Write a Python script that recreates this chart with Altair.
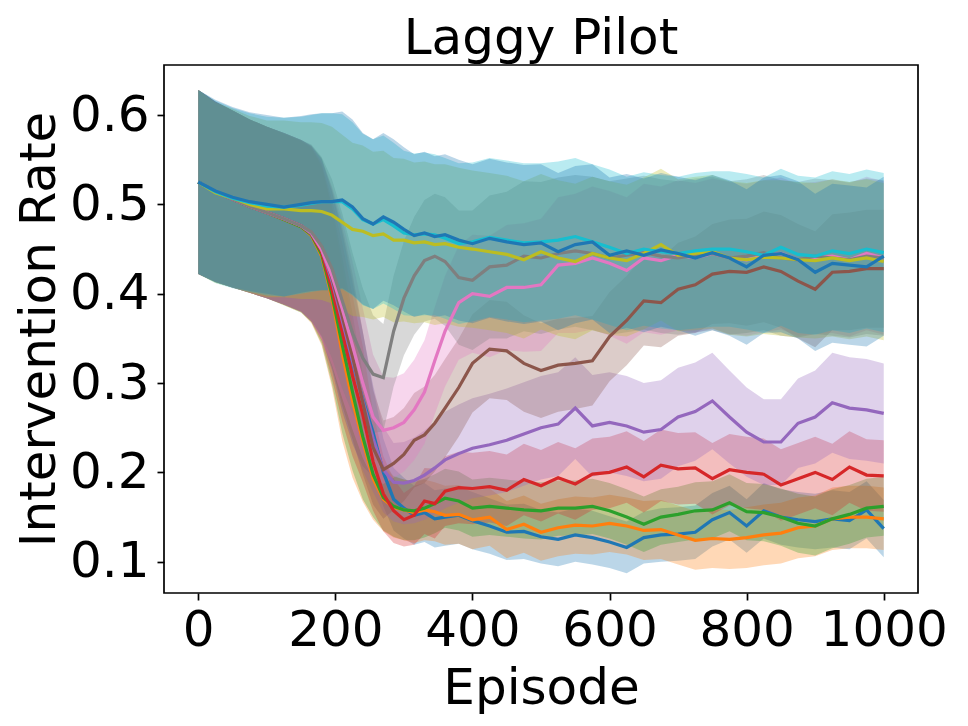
import altair as alt
import pandas as pd

# ---------------- data ----------------
EPISODES = [0, 25, 50, 75, 100, 125, 150, 165, 180, 195, 210, 225, 240, 255, 270, 285, 300,
            315, 330, 345, 360, 380, 400, 425, 450, 475, 500, 525, 550, 575, 600, 625, 650,
            675, 700, 725, 750, 775, 800, 825, 850, 875, 900, 925, 950, 975, 1000]

COLORS = ["#1f77b4", "#ff7f0e", "#2ca02c", "#d62728", "#9467bd", "#8c564b",
          "#e377c2", "#7f7f7f", "#bcbd22", "#17becf", "#1f77b4"]

MEAN_0 = [0.525, 0.514, 0.506, 0.498, 0.491, 0.484, 0.476, 0.467, 0.451, 0.415, 0.368, 0.322, 0.282, 0.245, 0.200, 0.170, 0.160,
          0.152, 0.155, 0.148, 0.150, 0.152, 0.146, 0.140, 0.133, 0.134, 0.128, 0.125, 0.130, 0.127, 0.122, 0.116, 0.127,
          0.130, 0.131, 0.133, 0.147, 0.155, 0.140, 0.157, 0.150, 0.147, 0.145, 0.148, 0.146, 0.158, 0.137]
MEAN_1 = [0.525, 0.514, 0.506, 0.498, 0.491, 0.483, 0.475, 0.465, 0.442, 0.395, 0.333, 0.280, 0.235, 0.193, 0.170, 0.161, 0.158,
          0.155, 0.158, 0.156, 0.152, 0.153, 0.147, 0.150, 0.136, 0.142, 0.133, 0.138, 0.141, 0.140, 0.143, 0.140, 0.135,
          0.136, 0.130, 0.124, 0.126, 0.125, 0.127, 0.130, 0.132, 0.138, 0.140, 0.148, 0.150, 0.150, 0.148]
MEAN_2 = [0.525, 0.514, 0.506, 0.498, 0.491, 0.483, 0.475, 0.466, 0.444, 0.399, 0.343, 0.290, 0.240, 0.198, 0.172, 0.162, 0.158,
          0.157, 0.160, 0.165, 0.171, 0.168, 0.160, 0.162, 0.160, 0.158, 0.157, 0.160, 0.160, 0.162, 0.157, 0.150, 0.142,
          0.150, 0.153, 0.157, 0.158, 0.166, 0.156, 0.155, 0.150, 0.143, 0.140, 0.148, 0.153, 0.160, 0.162]
MEAN_3 = [0.525, 0.514, 0.506, 0.498, 0.491, 0.484, 0.476, 0.467, 0.447, 0.405, 0.357, 0.308, 0.265, 0.212, 0.176, 0.157, 0.147,
          0.152, 0.168, 0.165, 0.179, 0.183, 0.182, 0.184, 0.180, 0.192, 0.185, 0.194, 0.187, 0.198, 0.200, 0.206, 0.195,
          0.208, 0.204, 0.205, 0.193, 0.203, 0.200, 0.198, 0.186, 0.193, 0.200, 0.192, 0.206, 0.197, 0.196]
MEAN_4 = [0.525, 0.514, 0.506, 0.498, 0.491, 0.484, 0.476, 0.467, 0.450, 0.414, 0.370, 0.325, 0.280, 0.238, 0.203, 0.189, 0.188,
          0.191, 0.197, 0.205, 0.214, 0.221, 0.227, 0.231, 0.236, 0.243, 0.250, 0.254, 0.272, 0.252, 0.256, 0.252, 0.245,
          0.248, 0.262, 0.268, 0.280, 0.262, 0.245, 0.234, 0.234, 0.255, 0.262, 0.278, 0.272, 0.270, 0.266]
MEAN_5 = [0.525, 0.514, 0.506, 0.498, 0.491, 0.484, 0.476, 0.468, 0.452, 0.418, 0.375, 0.330, 0.278, 0.228, 0.203, 0.210, 0.220,
          0.236, 0.242, 0.255, 0.272, 0.295, 0.322, 0.338, 0.336, 0.322, 0.314, 0.320, 0.322, 0.325, 0.352, 0.370, 0.392,
          0.390, 0.405, 0.410, 0.422, 0.425, 0.424, 0.430, 0.425, 0.414, 0.405, 0.424, 0.425, 0.428, 0.428]
MEAN_6 = [0.525, 0.514, 0.506, 0.498, 0.491, 0.484, 0.476, 0.468, 0.449, 0.420, 0.383, 0.342, 0.300, 0.262, 0.247, 0.250, 0.256,
          0.270, 0.290, 0.325, 0.358, 0.390, 0.400, 0.397, 0.407, 0.407, 0.410, 0.432, 0.434, 0.440, 0.434, 0.426, 0.440,
          0.437, 0.443, 0.440, 0.445, 0.440, 0.438, 0.442, 0.445, 0.438, 0.440, 0.442, 0.438, 0.445, 0.440]
MEAN_7 = [0.525, 0.514, 0.506, 0.498, 0.491, 0.484, 0.476, 0.469, 0.453, 0.428, 0.392, 0.356, 0.328, 0.310, 0.306, 0.358, 0.395,
          0.420, 0.437, 0.442, 0.436, 0.418, 0.415, 0.430, 0.432, 0.442, 0.440, 0.445, 0.448, 0.445, 0.440, 0.443, 0.446,
          0.442, 0.440, 0.443, 0.445, 0.440, 0.442, 0.446, 0.440, 0.438, 0.442, 0.440, 0.438, 0.442, 0.440]
MEAN_8 = [0.525, 0.513, 0.507, 0.500, 0.495, 0.495, 0.493, 0.493, 0.492, 0.488, 0.480, 0.472, 0.470, 0.465, 0.467, 0.460, 0.460,
          0.457, 0.458, 0.455, 0.456, 0.452, 0.450, 0.447, 0.444, 0.438, 0.447, 0.440, 0.436, 0.445, 0.440, 0.437, 0.445,
          0.455, 0.443, 0.445, 0.447, 0.440, 0.438, 0.441, 0.440, 0.438, 0.437, 0.440, 0.437, 0.440, 0.436]
MEAN_9 = [0.525, 0.514, 0.507, 0.502, 0.498, 0.497, 0.499, 0.501, 0.503, 0.503, 0.503, 0.495, 0.483, 0.478, 0.483, 0.476, 0.468,
          0.466, 0.467, 0.466, 0.462, 0.456, 0.458, 0.463, 0.460, 0.457, 0.458, 0.460, 0.464, 0.458, 0.452, 0.445, 0.450,
          0.447, 0.445, 0.448, 0.450, 0.450, 0.447, 0.443, 0.452, 0.444, 0.442, 0.448, 0.445, 0.450, 0.446]
MEAN_10 = [0.525, 0.515, 0.508, 0.503, 0.500, 0.497, 0.500, 0.502, 0.503, 0.503, 0.505, 0.497, 0.484, 0.478, 0.486, 0.480, 0.472,
           0.465, 0.468, 0.464, 0.466, 0.460, 0.456, 0.462, 0.458, 0.455, 0.457, 0.447, 0.455, 0.458, 0.443, 0.448, 0.443,
           0.449, 0.445, 0.440, 0.446, 0.440, 0.430, 0.443, 0.445, 0.438, 0.424, 0.434, 0.432, 0.430, 0.442]

# half-width of the shaded band around each mean
HW_0 = [0.103, 0.101, 0.099, 0.097, 0.096, 0.096, 0.096, 0.098, 0.100, 0.100, 0.100, 0.090, 0.075, 0.050, 0.038, 0.035, 0.034,
        0.033, 0.033, 0.032, 0.032, 0.032, 0.032, 0.031, 0.031, 0.031, 0.030, 0.030, 0.030, 0.030, 0.029, 0.029, 0.029,
        0.030, 0.030, 0.030, 0.030, 0.030, 0.030, 0.031, 0.031, 0.031, 0.031, 0.032, 0.032, 0.032, 0.032]
HW_1 = [0.103, 0.101, 0.099, 0.097, 0.096, 0.096, 0.096, 0.098, 0.100, 0.100, 0.098, 0.086, 0.068, 0.046, 0.036, 0.034, 0.034,
        0.034, 0.034, 0.033, 0.033, 0.033, 0.033, 0.032, 0.032, 0.032, 0.032, 0.032, 0.032, 0.032, 0.032, 0.032, 0.033,
        0.033, 0.033, 0.033, 0.033, 0.033, 0.034, 0.034, 0.034, 0.034, 0.034, 0.035, 0.035, 0.035, 0.035]
HW_2 = [0.103, 0.101, 0.099, 0.097, 0.096, 0.096, 0.096, 0.098, 0.100, 0.100, 0.099, 0.088, 0.070, 0.048, 0.037, 0.034, 0.034,
        0.033, 0.033, 0.033, 0.033, 0.033, 0.032, 0.032, 0.032, 0.032, 0.032, 0.031, 0.031, 0.031, 0.031, 0.031, 0.031,
        0.031, 0.031, 0.032, 0.032, 0.032, 0.032, 0.032, 0.032, 0.033, 0.033, 0.033, 0.033, 0.033, 0.033]
HW_3 = [0.103, 0.101, 0.099, 0.097, 0.096, 0.096, 0.096, 0.098, 0.100, 0.100, 0.100, 0.090, 0.076, 0.055, 0.042, 0.036, 0.030,
        0.033, 0.037, 0.039, 0.039, 0.040, 0.040, 0.040, 0.040, 0.040, 0.040, 0.040, 0.040, 0.040, 0.040, 0.040, 0.040,
        0.040, 0.040, 0.040, 0.040, 0.040, 0.040, 0.040, 0.040, 0.040, 0.040, 0.040, 0.040, 0.040, 0.040]
HW_4 = [0.103, 0.101, 0.099, 0.097, 0.096, 0.096, 0.096, 0.098, 0.100, 0.100, 0.100, 0.092, 0.078, 0.060, 0.048, 0.044, 0.046,
        0.048, 0.050, 0.052, 0.054, 0.055, 0.056, 0.057, 0.058, 0.058, 0.058, 0.058, 0.057, 0.057, 0.056, 0.056, 0.055,
        0.055, 0.055, 0.055, 0.054, 0.052, 0.050, 0.048, 0.048, 0.050, 0.052, 0.056, 0.057, 0.057, 0.056]
HW_5 = [0.103, 0.101, 0.099, 0.097, 0.096, 0.096, 0.096, 0.098, 0.100, 0.100, 0.100, 0.093, 0.080, 0.064, 0.055, 0.052, 0.052,
        0.053, 0.054, 0.054, 0.055, 0.055, 0.055, 0.055, 0.055, 0.054, 0.053, 0.052, 0.051, 0.050, 0.050, 0.050, 0.050,
        0.050, 0.052, 0.054, 0.056, 0.058, 0.060, 0.062, 0.063, 0.064, 0.065, 0.065, 0.066, 0.066, 0.066]
HW_6 = [0.103, 0.101, 0.099, 0.097, 0.096, 0.096, 0.096, 0.098, 0.100, 0.100, 0.100, 0.094, 0.084, 0.070, 0.060, 0.056, 0.055,
        0.056, 0.058, 0.060, 0.062, 0.064, 0.066, 0.068, 0.070, 0.072, 0.074, 0.076, 0.078, 0.080, 0.081, 0.082, 0.083,
        0.083, 0.084, 0.084, 0.084, 0.085, 0.085, 0.085, 0.085, 0.085, 0.085, 0.086, 0.086, 0.086, 0.086]
HW_7 = [0.103, 0.101, 0.099, 0.097, 0.096, 0.096, 0.096, 0.098, 0.100, 0.100, 0.098, 0.090, 0.078, 0.066, 0.060, 0.062, 0.064,
        0.066, 0.068, 0.070, 0.072, 0.075, 0.078, 0.080, 0.082, 0.084, 0.085, 0.085, 0.085, 0.086, 0.086, 0.086, 0.086,
        0.086, 0.086, 0.086, 0.086, 0.086, 0.086, 0.087, 0.087, 0.087, 0.087, 0.087, 0.087, 0.087, 0.087]
HW_8 = [0.103, 0.101, 0.100, 0.099, 0.099, 0.099, 0.099, 0.099, 0.099, 0.099, 0.098, 0.097, 0.096, 0.094, 0.093, 0.092, 0.091,
        0.090, 0.090, 0.090, 0.089, 0.089, 0.088, 0.088, 0.088, 0.088, 0.087, 0.087, 0.087, 0.086, 0.086, 0.085, 0.085,
        0.085, 0.085, 0.086, 0.086, 0.086, 0.086, 0.086, 0.087, 0.087, 0.087, 0.088, 0.088, 0.088, 0.088]
HW_9 = [0.103, 0.102, 0.101, 0.100, 0.100, 0.100, 0.099, 0.099, 0.099, 0.099, 0.098, 0.097, 0.096, 0.095, 0.094, 0.093, 0.092,
        0.091, 0.091, 0.090, 0.090, 0.090, 0.089, 0.089, 0.089, 0.089, 0.088, 0.088, 0.088, 0.087, 0.087, 0.086, 0.086,
        0.086, 0.086, 0.087, 0.087, 0.087, 0.087, 0.087, 0.088, 0.088, 0.088, 0.089, 0.089, 0.089, 0.089]
HW_10 = [0.103, 0.102, 0.101, 0.100, 0.100, 0.100, 0.099, 0.099, 0.099, 0.099, 0.099, 0.098, 0.096, 0.095, 0.094, 0.093, 0.092,
         0.091, 0.091, 0.090, 0.090, 0.090, 0.089, 0.089, 0.089, 0.089, 0.088, 0.088, 0.088, 0.087, 0.087, 0.086, 0.086,
         0.086, 0.086, 0.087, 0.087, 0.087, 0.087, 0.087, 0.088, 0.088, 0.088, 0.089, 0.089, 0.089, 0.089]

MEANS = [MEAN_0, MEAN_1, MEAN_2, MEAN_3, MEAN_4, MEAN_5, MEAN_6, MEAN_7, MEAN_8, MEAN_9, MEAN_10]
HWS = [HW_0, HW_1, HW_2, HW_3, HW_4, HW_5, HW_6, HW_7, HW_8, HW_9, HW_10]

X_TICKS = [0, 200, 400, 600, 800, 1000]
Y_TICKS = [0.1, 0.2, 0.3, 0.4, 0.5, 0.6]

rows = []
for s, (m, h) in enumerate(zip(MEANS, HWS)):
    for ep, mv, hv in zip(EPISODES, m, h):
        rows.append({"s": s, "ep": ep, "mean": mv, "lo": mv - hv, "hi": mv + hv})
df = pd.DataFrame(rows)

FONT = "DejaVu Sans"

x_scale = alt.Scale(domain=[-50, 1050], nice=False, zero=False)
y_scale = alt.Scale(domain=[0.065, 0.656], nice=False, zero=False)

x_axis = alt.Axis(values=X_TICKS, format="d", title="Episode", labelPadding=5,
                  titleX=377, titleY=110, titleBaseline="alphabetic", titleAlign="center")
y_axis = alt.Axis(values=Y_TICKS, format=".1f", title="Intervention Rate", labelPadding=8,
                  titleX=-110, titleY=264, titleAngle=270, titleBaseline="alphabetic",
                  titleAlign="center")


def xenc():
    return alt.X("ep:Q", scale=x_scale, axis=x_axis)


base = alt.Chart(df)

areas = []
lines = []
for s, c in enumerate(COLORS):
    areas.append(
        base.transform_filter(alt.datum.s == s)
        .mark_area(color=c, opacity=0.3, clip=True)
        .encode(x=xenc(), y=alt.Y("lo:Q", scale=y_scale, axis=y_axis), y2="hi:Q")
    )
    lines.append(
        base.transform_filter(alt.datum.s == s)
        .mark_line(color=c, strokeWidth=3.2, clip=True)
        .encode(x=xenc(), y=alt.Y("mean:Q", scale=y_scale, axis=y_axis))
    )

chart = (
    alt.layer(*areas, *lines)
    .properties(
        width=754,
        height=528,
        title=alt.TitleParams("Laggy Pilot", font=FONT, fontSize=50, fontWeight="normal",
                              color="black", anchor="middle", baseline="alphabetic",
                              offset=13, dy=52),
        autosize=alt.AutoSizeParams(type="none"),
        padding={"left": 156, "top": 57, "right": 40, "bottom": 122},
        background="white",
    )
    .configure_view(stroke="black", strokeWidth=1.7)
    .configure_axis(
        domain=False, grid=False,
        tickColor="black", tickWidth=1.7, tickSize=7,
        labelFont=FONT, labelFontSize=50, labelColor="black",
        titleFont=FONT, titleFontSize=50, titleFontWeight="normal", titleColor="black",
    )
)

chart.save("out.html", embed_options={"renderer": "svg", "actions": False})
